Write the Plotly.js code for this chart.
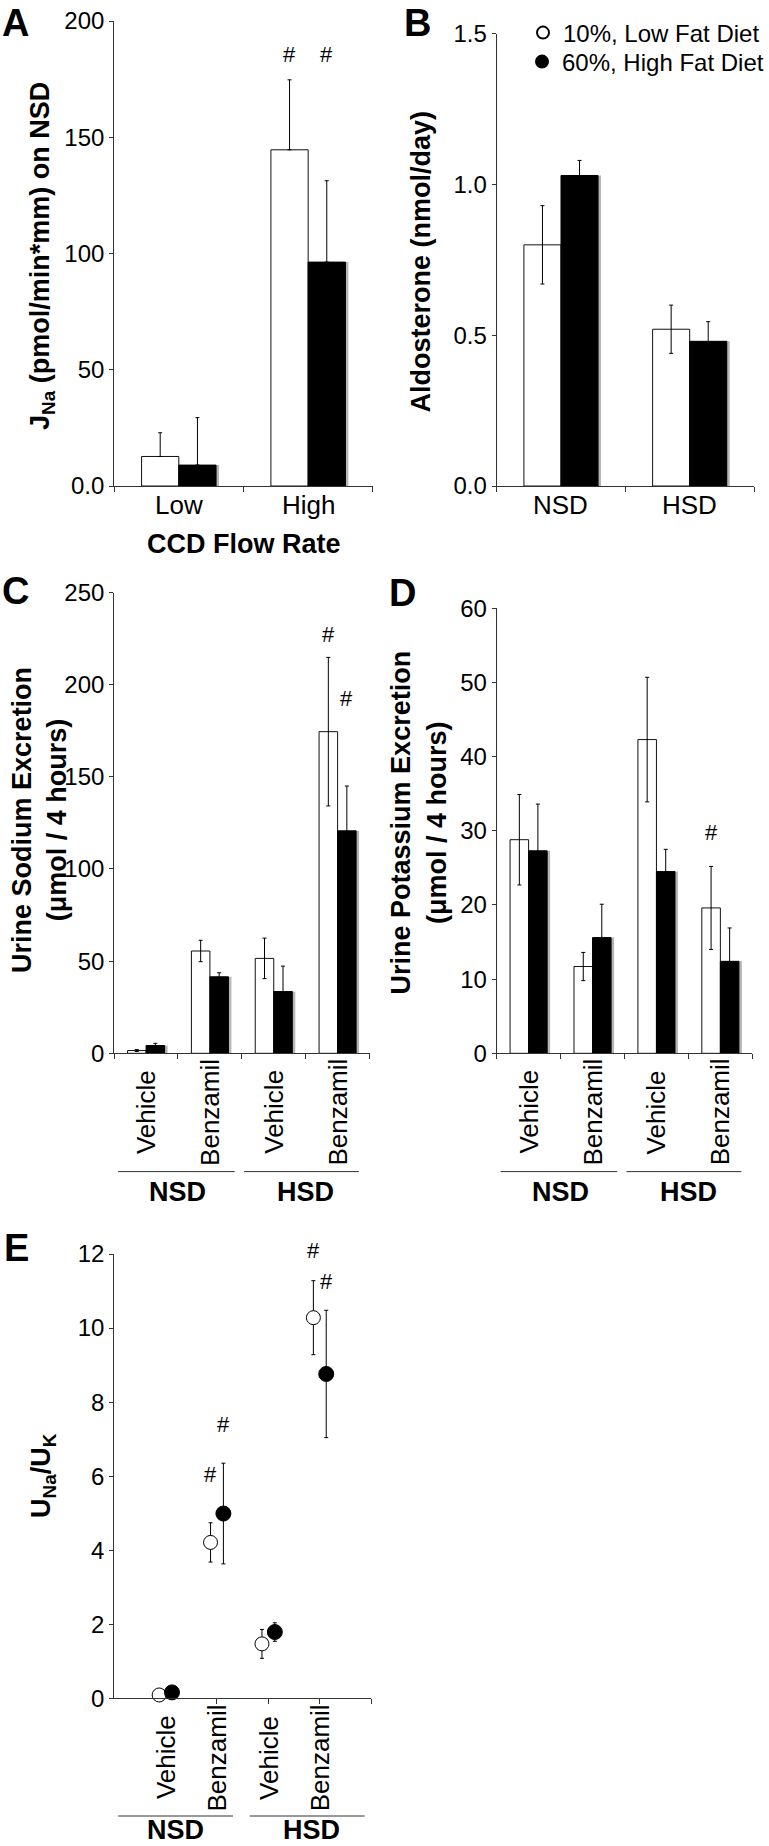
<!DOCTYPE html>
<html><head><meta charset="utf-8">
<script src="https://cdn.plot.ly/plotly-3.0.1.min.js"></script>
<style>html,body{margin:0;padding:0;background:#fff}</style>
</head><body><div id="chart" style="width:769px;height:1846px"></div>
<script>
// ---------------- data ----------------
const flowRates = ['Low', 'High'];
const jnaLowFat = [12.7, 144.6];
const jnaLowFatErr = [10.2, 30.1];
const jnaHighFat = [9.0, 96.3];
const jnaHighFatErr = [20.4, 35.0];

const saltDiets = ['NSD', 'HSD'];
const aldoLowFat = [0.80, 0.52];
const aldoLowFatErr = [0.13, 0.08];
const aldoHighFat = [1.03, 0.48];
const aldoHighFatErr = [0.05, 0.065];

const treatments = ['Vehicle', 'Benzamil', 'Vehicle', 'Benzamil'];
const treatmentGroups = ['NSD', 'HSD'];
const naLowFat = [1.5, 55.5, 51.5, 174.5];
const naLowFatErr = [0.5, 5.8, 11.0, 40.3];
const naHighFat = [4.2, 41.5, 33.5, 120.7];
const naHighFatErr = [1.2, 2.2, 13.8, 24.3];

const kLowFat = [28.8, 11.7, 42.3, 19.6];
const kLowFatErr = [6.1, 1.9, 8.4, 5.6];
const kHighFat = [27.3, 15.6, 24.5, 12.4];
const kHighFatErr = [6.3, 4.5, 3.0, 4.5];

const ratioLowFat = [0.09, 4.21, 1.47, 10.28];
const ratioLowFatErr = [0.05, 0.53, 0.39, 1.0];
const ratioHighFat = [0.16, 4.99, 1.79, 8.76];
const ratioHighFatErr = [0.05, 1.36, 0.25, 1.72];

const seriesNames = ['10%, Low Fat Diet', '60%, High Fat Diet'];

const yTicksA = [0, 50, 100, 150, 200];
const yTickTextA = ['0.0', '50', '100', '150', '200'];
const yTicksB = [0, 0.5, 1.0, 1.5];
const yTickTextB = ['0.0', '0.5', '1.0', '1.5'];
const yTicksC = [0, 50, 100, 150, 200, 250];
const yTicksD = [0, 10, 20, 30, 40, 50, 60];
const yTicksE = [0, 2, 4, 6, 8, 10, 12];

// ---------------- layout helpers ----------------
const W = 769, H = 1846;
const FONT = 'Liberation Sans, Arial, Helvetica, sans-serif';
const INK = '#000';
const AX = '#333';
const fx = px => px / W;
const fy = py => 1 - py / H;

function font(size, extra) { return Object.assign({family: FONT, size: size, color: INK}, extra || {}); }
function ann(o, size) {
  return Object.assign({showarrow: false, font: font(size || 24)}, o);
}

const idx = arr => arr.map((_, i) => i);

// bar traces
function barPair(xa, ya, cats, lf, lfErr, hf, hfErr, bw, catPx, twoSided) {
  const xs = idx(cats);
  const errObj = (e) => ({type: 'data', symmetric: false, array: e,
    arrayminus: twoSided ? e : e.map(() => 0), color: INK, thickness: 1, width: 2});
  const shadowShift = 3 / catPx;
  return [
    {type: 'bar', x: xs, y: lf, xaxis: xa, yaxis: ya, width: bw, offset: -bw,
     marker: {color: '#fff', line: {color: '#111', width: 1}}, error_y: errObj(lfErr),
     showlegend: false, hoverinfo: 'skip', name: seriesNames[0]},
    {type: 'bar', x: xs, y: hf, xaxis: xa, yaxis: ya, width: bw, offset: shadowShift,
     marker: {color: '#b5b5b5', line: {width: 0}}, showlegend: false, hoverinfo: 'skip'},
    {type: 'bar', x: xs, y: hf, xaxis: xa, yaxis: ya, width: bw, offset: 0,
     marker: {color: '#000', line: {color: '#000', width: 1}}, error_y: errObj(hfErr),
     showlegend: false, hoverinfo: 'skip', name: seriesNames[1]}
  ];
}

const bwAB = 0.288, bwCD = 0.29;
const eShift = 0.125;

const traces = [
  ...barPair('x', 'y', flowRates, jnaLowFat, jnaLowFatErr, jnaHighFat, jnaHighFatErr, bwAB, 129.5, false),
  ...barPair('x2', 'y2', saltDiets, aldoLowFat, aldoLowFatErr, aldoHighFat, aldoHighFatErr, bwAB, 129, true),
  ...barPair('x3', 'y3', treatments, naLowFat, naLowFatErr, naHighFat, naHighFatErr, bwCD, 64, true),
  ...barPair('x4', 'y4', treatments, kLowFat, kLowFatErr, kHighFat, kHighFatErr, bwCD, 64, true),
  {type: 'scatter', mode: 'markers', name: seriesNames[0], xaxis: 'x5', yaxis: 'y5', legend: 'legend',
   x: idx(treatments).map(i => i + 1 - eShift), y: ratioLowFat,
   error_y: {type: 'data', array: ratioLowFatErr, color: INK, thickness: 1, width: 2},
   marker: {symbol: 'circle', size: 14, color: '#fff', line: {color: '#000', width: 1}},
   cliponaxis: false, hoverinfo: 'skip'},
  {type: 'scatter', mode: 'markers', name: seriesNames[1], xaxis: 'x5', yaxis: 'y5', legend: 'legend2',
   x: idx(treatments).map(i => i + 1 + eShift), y: ratioHighFat,
   error_y: {type: 'data', array: ratioHighFatErr, color: INK, thickness: 1, width: 2},
   marker: {symbol: 'circle', size: 15, color: '#000', line: {color: '#000', width: 1}},
   cliponaxis: false, hoverinfo: 'skip'}
];

// axes
function xAxis(dom, anchor, range, tickvals) {
  return {domain: [fx(dom[0]), fx(dom[1])], anchor: anchor, range: range,
    tickvals: tickvals, showticklabels: false, ticks: 'outside', ticklen: 5,
    tickcolor: AX, tickwidth: 1, showline: true, linecolor: AX, linewidth: 1,
    showgrid: false, zeroline: false, fixedrange: true};
}
function yAxis(dom, anchor, range, tickvals, ticktext) {
  return {domain: [fy(dom[1]), fy(dom[0])], anchor: anchor, range: range,
    tickvals: tickvals, ticktext: ticktext || tickvals.map(String),
    ticks: 'outside', ticklen: 4, tickcolor: AX, tickwidth: 1,
    tickfont: font(24), showline: true, linecolor: AX, linewidth: 1,
    showgrid: false, zeroline: false, fixedrange: true};
}

const bounds = n => Array.from({length: n + 1}, (_, i) => i - 0.5);

const annotations = [];
// panel letters
[['A', 0, 0, 'top'], ['B', 403, 0, 'top'], ['C', 0, 591, 'middle'], ['D', 388, 593, 'middle'], ['E', 2, 1248, 'middle']].forEach(p => {
  annotations.push(ann({text: '<b>' + p[0] + '</b>', xref: 'paper', yref: 'paper',
    x: fx(p[1]), y: fy(p[2]), xanchor: 'left', yanchor: p[3]}, 38));
});
// y titles
const yTitles = [
  ['J<sub>Na</sub> (pmol/min*mm) on NSD', 42, 256],
  ['Aldosterone (nmol/day)', 422, 261],
  ['Urine Sodium Excretion<br>(μmol / 4 hours)', 39, 820],
  ['Urine Potassium Excretion<br>(μmol / 4 hours)', 420, 822],
  ['U<sub>Na</sub>/U<sub>K</sub>', 43, 1475]
];
yTitles.forEach(t => annotations.push(ann({text: '<b>' + t[0] + '</b>', xref: 'paper', yref: 'paper',
  x: fx(t[1]), y: fy(t[2]), textangle: -90, xanchor: 'center', yanchor: 'middle'}, 27)));
// A, B category labels
flowRates.forEach((c, i) => annotations.push(ann({text: c, xref: 'x', yref: 'paper', x: i, y: fy(505),
  xanchor: 'center', yanchor: 'middle'}, 26)));
saltDiets.forEach((c, i) => annotations.push(ann({text: c, xref: 'x2', yref: 'paper', x: i, y: fy(505),
  xanchor: 'center', yanchor: 'middle'}, 26)));
annotations.push(ann({text: '<b>CCD Flow Rate</b>', xref: 'paper', yref: 'paper', x: fx(244.5), y: fy(544),
  xanchor: 'center', yanchor: 'middle'}, 27));
// C, D, E treatment labels
[['x3', 0, 1112], ['x4', 0, 1112], ['x5', 1, 1757.5]].forEach(a => {
  treatments.forEach((t, i) => annotations.push(ann({text: t, xref: a[0], yref: 'paper',
    x: i + a[1], y: fy(a[2]), textangle: -90, xanchor: 'center', yanchor: 'middle'}, 26)));
});
// group labels
['x3', 'x4'].forEach(xa => treatmentGroups.forEach((g, j) => annotations.push(ann({text: '<b>' + g + '</b>',
  xref: xa, yref: 'paper', x: 0.5 + 2 * j, y: fy(1192), xanchor: 'center', yanchor: 'middle'}, 27))));
treatmentGroups.forEach((g, j) => annotations.push(ann({text: '<b>' + g + '</b>', xref: 'paper', yref: 'paper',
  x: fx([176, 312][j]), y: fy(1830), xanchor: 'center', yanchor: 'middle'}, 27)));
// significance marks (x on data axis, y as vertical position)
const sig = [
  ['x', 'y', 1 - bwAB / 2, 185.7], ['x', 'y', 1 + bwAB / 2, 185.7],
  ['x3', 'y3', 3 - bwCD / 2, 227], ['x3', 'y3', 3 + bwCD / 2, 192.4],
  ['x4', 'y4', 3 - bwCD / 2, 29.8],
  ['x5', 'y5', 2 - eShift, 6.05], ['x5', 'y5', 2 + eShift, 7.4],
  ['x5', 'y5', 4 + eShift, 11.26]
];
sig.forEach(s => annotations.push(ann({text: '#', xref: s[0], yref: s[1], x: s[2], y: s[3],
  xanchor: 'center', yanchor: 'middle'}, 22)));
// the mark above the top of panel E's axis range (placed in paper space)
annotations.push(ann({text: '#', xref: 'x5', yref: 'paper', x: 4 - eShift, y: fy(1250),
  xanchor: 'center', yanchor: 'middle'}, 22));

// group underline shapes
const shapes = [];
[[118.3, 235, 1171.6], [244.3, 359.3, 1171.6], [501.3, 618, 1171.6], [627.3, 742.3, 1171.6],
 [118.3, 233.3, 1816], [250, 365, 1816]].forEach(l => shapes.push({type: 'line', xref: 'paper', yref: 'paper',
  x0: fx(l[0]), x1: fx(l[1]), y0: fy(l[2]), y1: fy(l[2]), line: {color: AX, width: 1}}));

const legendBase = {xanchor: 'left', yanchor: 'top', font: font(24),
  bgcolor: 'rgba(0,0,0,0)', itemsizing: 'constant'};

const layout = {
  width: W, height: H, margin: {l: 0, r: 0, t: 0, b: 0}, autosize: false,
  paper_bgcolor: '#fff', plot_bgcolor: 'rgba(0,0,0,0)',
  font: font(24), barmode: 'overlay', showlegend: true,
  legend: Object.assign({x: fx(523), y: fy(10.5)}, legendBase),
  legend2: Object.assign({x: fx(523), y: fy(39.5)}, legendBase),
  xaxis: xAxis([114.3, 373.3], 'y', [-0.5, 1.5], bounds(2)),
  yaxis: yAxis([21, 486], 'x', [0, 200], yTicksA, yTickTextA),
  xaxis2: xAxis([497.3, 755], 'y2', [-0.5, 1.5], bounds(2)),
  yaxis2: yAxis([33.8, 486], 'x2', [0, 1.5], yTicksB, yTickTextB),
  xaxis3: xAxis([114.3, 370], 'y3', [-0.5, 3.5], bounds(4)),
  yaxis3: yAxis([592.5, 1053.3], 'x3', [0, 250], yTicksC),
  xaxis4: xAxis([497.3, 753.3], 'y4', [-0.5, 3.5], bounds(4)),
  yaxis4: yAxis([608.3, 1053.3], 'x4', [0, 60], yTicksD),
  xaxis5: xAxis([114.3, 371.7], 'y5', [0, 5], [2, 3, 4, 5]),
  yaxis5: yAxis([1254, 1698.3], 'x5', [0, 12], yTicksE),
  annotations: annotations, shapes: shapes
};

Plotly.newPlot('chart', traces, layout, {staticPlot: true, displayModeBar: false});
</script></body></html>
